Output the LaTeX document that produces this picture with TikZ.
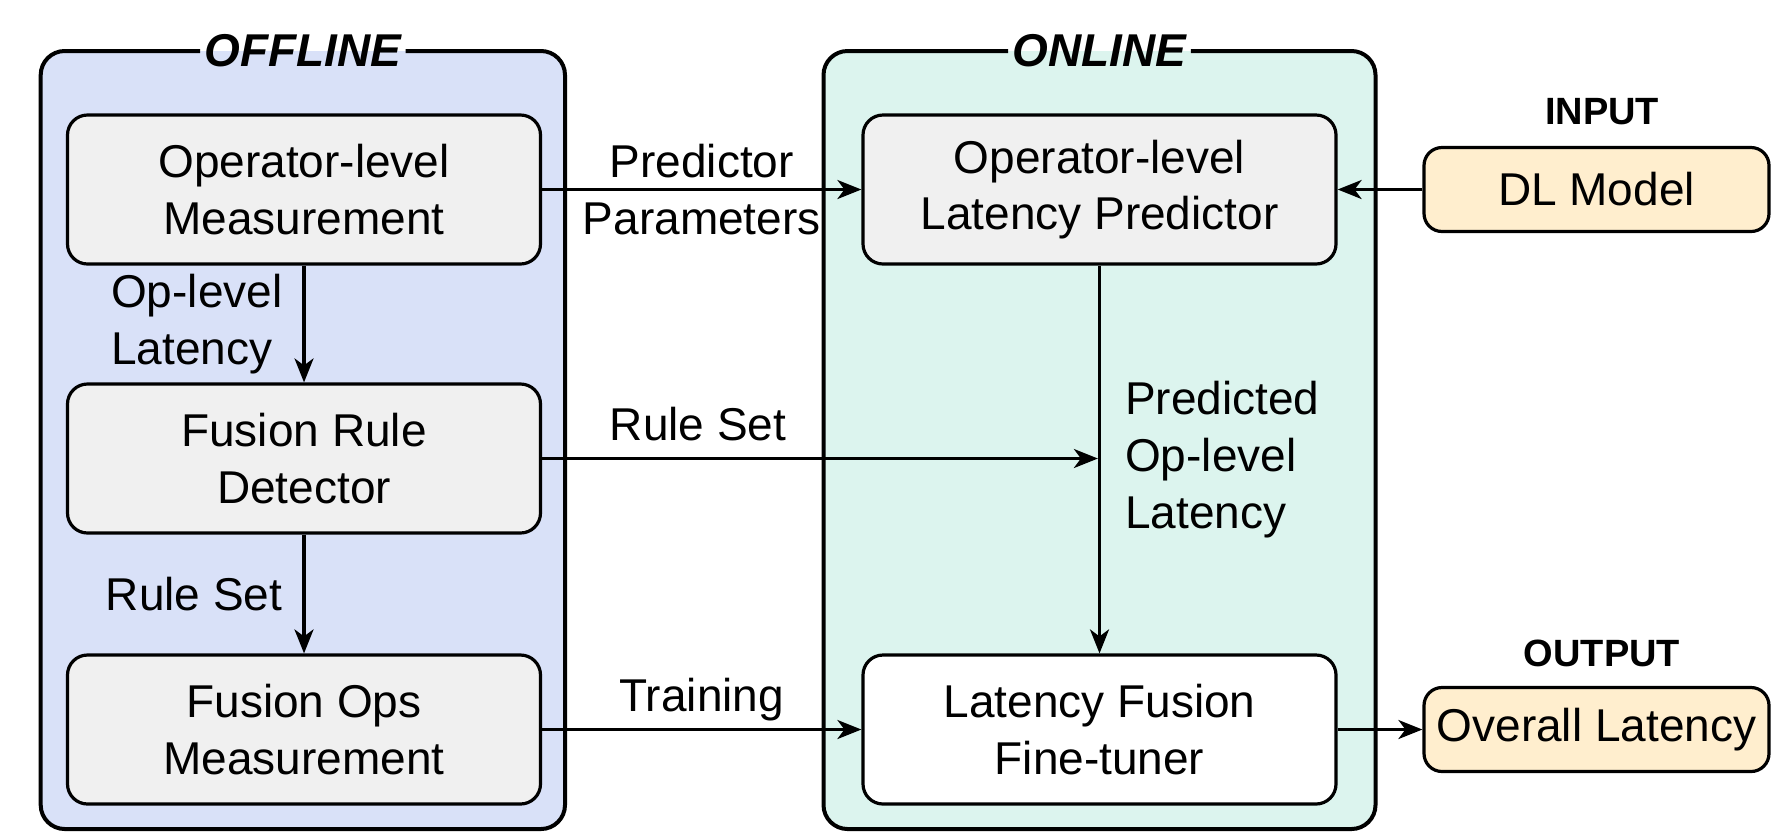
\documentclass[tikz,border=0pt]{standalone}
\usepackage{fontspec}
\setmainfont{Liberation Sans}
\usetikzlibrary{arrows.meta}

\definecolor{offfill}{RGB}{217,225,248}
\definecolor{onfill}{RGB}{220,244,238}
\definecolor{boxfill}{RGB}{240,240,240}
\definecolor{iofill}{RGB}{255,238,206}

\begin{document}
\begin{tikzpicture}[x=0.5pt,y=-0.5pt,
  every node/.style={font=\fontsize{23}{28.3}\selectfont, text=black},
  stage/.style={draw, line width=1.6pt, rounded corners=10pt, fill=boxfill,
    minimum width=236.5pt, minimum height=74.5pt, align=center, inner sep=0pt},
  io/.style={draw, line width=1.6pt, rounded corners=9pt, fill=iofill,
    minimum width=172.5pt, minimum height=42pt, inner sep=0pt},
  flow/.style={line width=1.6pt, -{Stealth[length=12pt,width=9.5pt,inset=3.5pt]}},
  panel/.style={line width=2pt, rounded corners=12pt},
  paneltitle/.style={font=\fontsize{23}{28}\selectfont\bfseries\itshape, inner sep=2pt},
  iotitle/.style={font=\fontsize{19}{23}\selectfont\bfseries, inner sep=0pt},
  lbl/.style={align=left, inner sep=0pt}
]
\useasboundingbox (0,0) rectangle (1771,832);

% offline panel
\fill[offfill, rounded corners=12pt] (40.7,51) rectangle (565,829);
\node[paneltitle] (offt) at (302.8,51) {OFFLINE};
\draw[panel] (offt.east) -- (565,51) -- (565,829) -- (40.7,829) -- (40.7,51) -- (offt.west);

% online panel
\fill[onfill, rounded corners=12pt] (823.5,51) rectangle (1375.5,829);
\node[paneltitle] (ont) at (1099.5,51) {ONLINE};
\draw[panel] (ont.east) -- (1375.5,51) -- (1375.5,829) -- (823.5,829) -- (823.5,51) -- (ont.west);

% processing stages
\node[stage] (b1) at (304,189.5) {Operator-level\\Measurement};
\node[stage] (b2) at (304,458.5) {Fusion Rule\\Detector};
\node[stage] (b3) at (304,729.5) {Fusion Ops\\Measurement};
\node[stage] (b4) at (1099.5,189.5) {Operator-level\\Latency Predictor};
\node[stage, fill=white] (b5) at (1099.5,729.5) {Latency Fusion\\Fine-tuner};

% input and output
\node[iotitle] (intitle) at (1602,112) {INPUT};
\node[io] (dl) at (1596.5,189.5) {DL Model};
\node[iotitle] (outtitle) at (1602,653) {OUTPUT};
\node[io] (out) at (1596.5,729.5) {Overall Latency};

% connectors
\draw[flow] (b1.east) -- node[lbl, align=center] {Predictor\\Parameters} (b4.west);
\draw[flow] (dl.west) -- (b4.east);
\draw[flow] (b1.south) -- node[lbl, anchor=east, xshift=-10pt] {Op-level\\Latency} (b2.north);
\draw[flow] (b2.south) -- node[lbl, anchor=east, xshift=-10pt] {Rule Set} (b3.north);
\draw[flow] (b4.south) -- node[lbl, anchor=west, xshift=12pt] {Predicted\\Op-level\\Latency} (b5.north);
\coordinate (j) at (b4.south |- b2.east);
\draw[flow, shorten >=0.8pt] (b2.east) -- node[pos=0.28, anchor=base, yshift=9pt, inner sep=0pt] {Rule Set} (j);
\draw[flow] (b3.east) -- node[anchor=base, yshift=9pt, inner sep=0pt] {Training} (b5.west);
\draw[flow] (b5.east) -- (out.west);
\end{tikzpicture}
\end{document}
